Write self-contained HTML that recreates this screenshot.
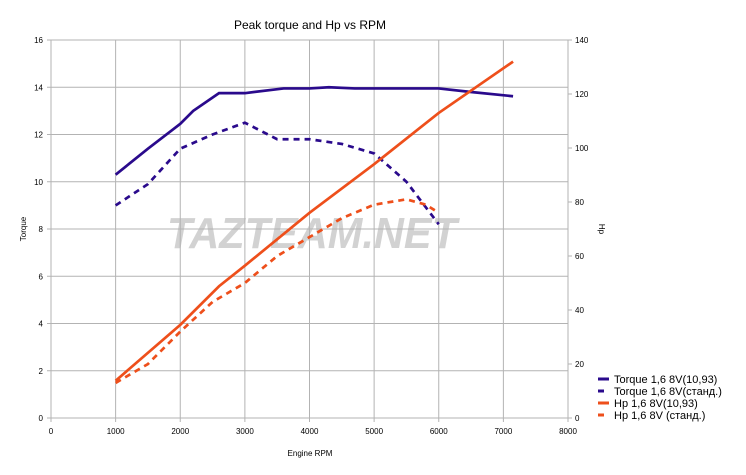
<!DOCTYPE html>
<html><head><meta charset="utf-8"><style>
body{margin:0;background:#fff}
svg{display:block;font-family:"Liberation Sans","DejaVu Sans",sans-serif}
</style></head><body>
<svg id="chart" width="746" height="475" viewBox="0 0 746 475">
<text x="310" y="29" font-size="12" text-anchor="middle" fill="#000">Peak torque and Hp vs RPM</text>
<text x="167" y="248" font-size="44" font-weight="bold" font-style="italic" textLength="290" lengthAdjust="spacingAndGlyphs" fill="#d2d2d2">TAZTEAM.NET</text>
<g id="grid"></g>
<g id="series"></g>
<text x="310" y="456" font-size="8" text-anchor="middle">Engine RPM</text>
<text transform="translate(26,229) rotate(-90)" font-size="8" text-anchor="middle">Torque</text>
<text transform="translate(599,229) rotate(90)" font-size="8" text-anchor="middle">Hp</text>
<g id="legend"></g>
</svg>
<script>
const xTicks=[0,1000,2000,3000,4000,5000,6000,7000,8000];
const yTicks=[0,2,4,6,8,10,12,14,16];
const y2Ticks=[0,20,40,60,80,100,120,140];
const torqueRpm=[1000,1500,2000,2200,2600,3000,3600,4000,4300,4700,6000,6500,7150];
const torqueVals=[10.3,11.4,12.45,13.0,13.75,13.75,13.95,13.95,14.0,13.95,13.95,13.8,13.62];
const torqueStdRpm=[1000,1500,2000,2500,3000,3500,4000,4500,5000,5500,6000];
const torqueStdVals=[9.0,9.9,11.4,12.0,12.5,11.8,11.8,11.6,11.2,10.0,8.2];
const hpRpm=[1000,2000,2600,3000,4000,5000,6000,7150];
const hpVals=[13.8,34.5,48.8,56.4,76,94,113,132];
const hpStdRpm=[1000,1500,2000,2500,3000,3500,4000,4500,5000,5500,5800,6000];
const hpStdVals=[13,20,32,43,50,60,67,74,79,81,79,76];
const legendLabels=["Torque 1,6 8V(10,93)","Torque 1,6 8V(станд.)","Hp 1,6 8V(10,93)","Hp 1,6 8V (станд.)"];
const NS="http://www.w3.org/2000/svg";
const L=51,R=568,T=40,B=418;
const xs=v=>L+(v/8000)*(R-L);
const ys=v=>B-(v/16)*(B-T);
const ys2=v=>B-(v/140)*(B-T);
function mk(tag,attrs,parent){const e=document.createElementNS(NS,tag);for(const k in attrs)e.setAttribute(k,attrs[k]);parent.appendChild(e);return e;}
const grid=document.getElementById('grid');
xTicks.forEach(t=>{
 const l=mk('line',{x1:xs(t),x2:xs(t),y1:T,y2:B+4,stroke:'#b3b3b3','stroke-width':1},grid);
 
 
 const tx=mk('text',{x:xs(t),y:B+16,'font-size':8,'text-anchor':'middle'},grid);tx.textContent=t;
 
 
});
yTicks.forEach(t=>{
 const l=mk('line',{x1:L-4,x2:R,y1:ys(t),y2:ys(t),stroke:'#b3b3b3','stroke-width':1},grid);
 
 
 const tx=mk('text',{x:L-8,y:ys(t)+3,'font-size':8,'text-anchor':'end'},grid);tx.textContent=t;
 
 
});
y2Ticks.forEach(t=>{
 const l=mk('line',{x1:R,x2:R+4,y1:ys2(t),y2:ys2(t),stroke:'#b3b3b3','stroke-width':1},grid);
 
 
 const tx=mk('text',{x:R+7,y:ys2(t)+3,'font-size':8},grid);tx.textContent=t;
 
 
});
const ser=document.getElementById('series');
function line(xsArr,vals,scale,color,dash,name){
 const p=mk('polyline',{points:xsArr.map((x,i)=>xs(x)+','+scale(vals[i])).join(' '),fill:'none',stroke:color,'stroke-width':2.7,'stroke-dasharray':dash},ser);
 
 
}
line(torqueRpm,torqueVals,ys,'#2a0a8c','none','torque-line');
line(torqueStdRpm,torqueStdVals,ys,'#2a0a8c','6,5','torque-std-line');
line(hpRpm,hpVals,ys2,'#ee4f1b','none','hp-line');
line(hpStdRpm,hpStdVals,ys2,'#ee4f1b','6,5','hp-std-line');
const leg=document.getElementById('legend');
const colors=['#2a0a8c','#2a0a8c','#ee4f1b','#ee4f1b'];
legendLabels.forEach((s,i)=>{
 const y=379+i*12;
 const m=mk('line',{x1:598,x2:i%2?604:609,y1:y,y2:y,stroke:colors[i],'stroke-width':3},leg);
 
 
 const tx=mk('text',{x:614,y:y+4,'font-size':11},leg);tx.textContent=s;
 
 
});
</script>
</body></html>
